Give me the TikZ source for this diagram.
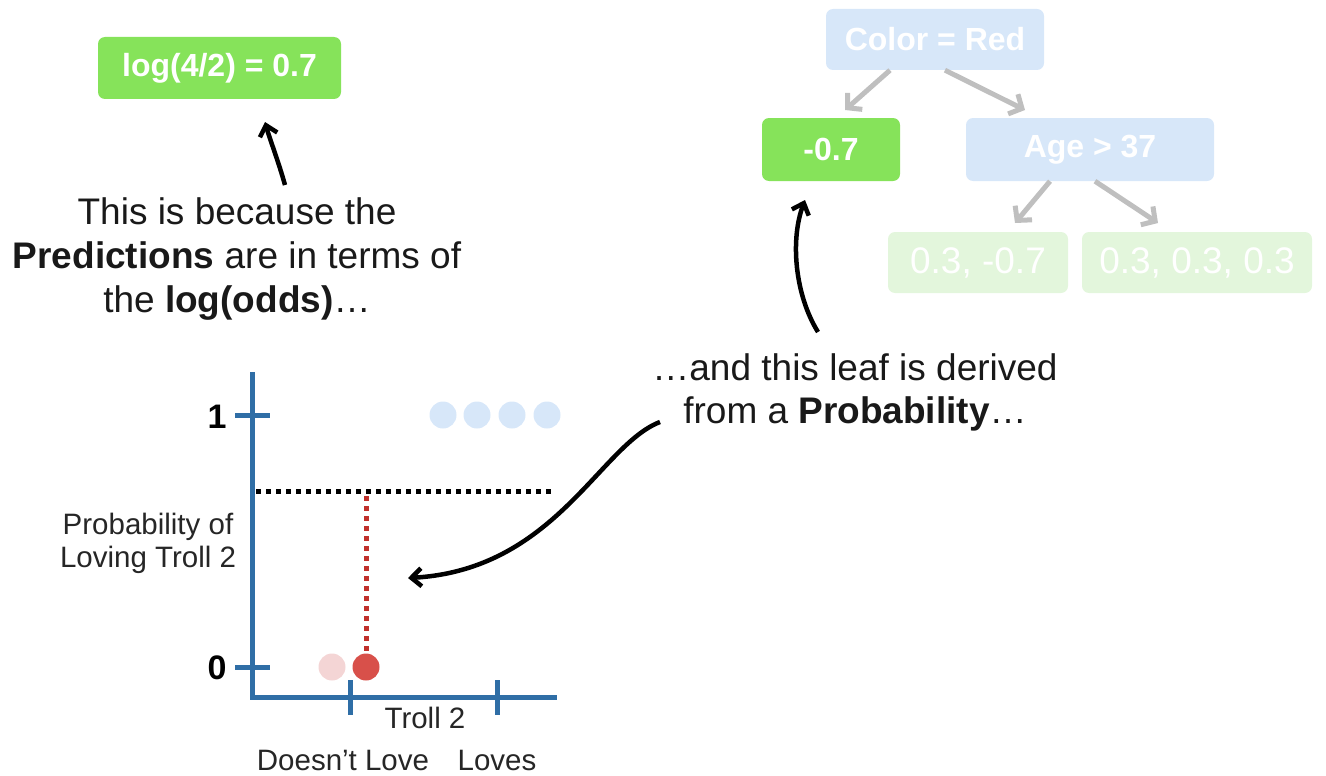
\documentclass[tikz,border=0pt]{standalone}
\usepackage{fontspec}
\setmainfont{Liberation Sans}
\usetikzlibrary{arrows.meta}
\definecolor{leafgreen}{HTML}{86E35A}
\definecolor{paleblue}{HTML}{D7E7F9}
\definecolor{palegreen}{HTML}{E3F6DC}
\definecolor{axisblue}{HTML}{2F6EA6}
\definecolor{dotred}{HTML}{D8504A}
\definecolor{dotpink}{HTML}{F4D5D5}
\definecolor{dashred}{HTML}{C0302B}
\begin{document}
\begin{tikzpicture}[x=1pt,y=-1pt,
  box/.style={rounded corners=7pt,text=white,inner sep=0pt,font=\fontsize{32}{36}\selectfont\bfseries},
  note/.style={align=center,text=black!90,font=\fontsize{37}{44}\selectfont},
  small/.style={text=black!85,font=\fontsize{29.5}{33}\selectfont},
  arr/.style={line width=4.5pt,-{Straight Barb[length=10pt,width=18pt]}},
  treearr/.style={line width=5pt,draw=black!25,-{Straight Barb[length=10pt,width=22pt]}},
  axis/.style={line width=5pt,draw=axisblue},
  pt/.style={circle,inner sep=0pt,minimum size=27pt}]
\useasboundingbox (0,0) rectangle (1326,776);
\node[box,fill=leafgreen,minimum width=243pt,minimum height=62pt] (logbox) at (219.5,68) {log(4/2) = 0.7};
\node[note] (because) at (237,259) {This is because the\\\textbf{Predictions} are in terms of\\the \textbf{log(odds)}…};
\coordinate (a1s) at (285,185);
\coordinate (a1e) at (265,122);
\draw[arr] (a1s) .. controls (278,160) and (270,140) .. (a1e);
\node[box,fill=paleblue,minimum width=218pt,minimum height=61pt] (root) at (935,39.5) {Color = Red};
\node[box,fill=leafgreen,minimum width=138pt,minimum height=63pt] (leaf) at (831,149.5) {-0.7};
\node[box,fill=paleblue,minimum width=248pt,minimum height=63pt] (age) at (1090,149.5) {Age > 37};
\node[box,fill=palegreen,minimum width=180pt,minimum height=61pt,font=\fontsize{37}{40}\selectfont] (leafa) at (978,262.5) {0.3, -0.7};
\node[box,fill=palegreen,minimum width=230pt,minimum height=61pt,font=\fontsize{37}{40}\selectfont] (leafb) at (1197,262.5) {0.3, 0.3, 0.3};
\draw[treearr] (root.south -| 890,0) -- (845,110);
\draw[treearr] (root.south -| 945,0) -- (1025,110);
\draw[treearr] (age.south -| 1050,0) -- (1015,223);
\draw[treearr] (age.south -| 1095,0) -- (1158,223);
\node[note,font=\fontsize{37}{43}\selectfont] (derived) at (855,392) {…and this leaf is derived\\from a \textbf{Probability}…};
\coordinate (a2s) at (818,332);
\coordinate (a2e) at (805,200);
\draw[arr] (a2s) .. controls (795,295) and (790,240) .. (a2e);
\draw[axis] (252,372) -- (252,697) -- (557,697);
\draw[axis] (235,415) -- (270,415);
\draw[axis] (235,667) -- (270,667);
\draw[axis] (350,680) -- (350,715);
\draw[axis] (497,680) -- (497,715);
\node[font=\fontsize{34}{36}\selectfont\bfseries] (one) at (217,417) {1};
\node[font=\fontsize{34}{36}\selectfont\bfseries] (zero) at (217,668) {0};
\node[small,align=center] (ylab) at (148,543) {Probability of\\Loving Troll 2};
\node[small] (xlab) at (425,718) {Troll 2};
\node[small] (nolove) at (343,760) {Doesn’t Love};
\node[small] (loves) at (497,760) {Loves};
\foreach \x [count=\i] in {443,477,512,547} \node[pt,fill=paleblue] (love\i) at (\x,415) {};
\node[pt,fill=dotpink] (nolove1) at (332,667) {};
\node[pt,fill=dotred] (nolove2) at (366,667) {};
\draw[line width=5pt,dash pattern=on 5pt off 5pt] (256,491) -- (554,491);
\draw[line width=5pt,draw=dashred,dash pattern=on 5pt off 5pt] (366,496) -- (nolove2.north);
\coordinate (a3s) at (660,422);
\coordinate (a3e) at (408,578);
\draw[arr] (a3s) .. controls (600,445) and (555,570) .. (a3e);
\end{tikzpicture}
\end{document}
